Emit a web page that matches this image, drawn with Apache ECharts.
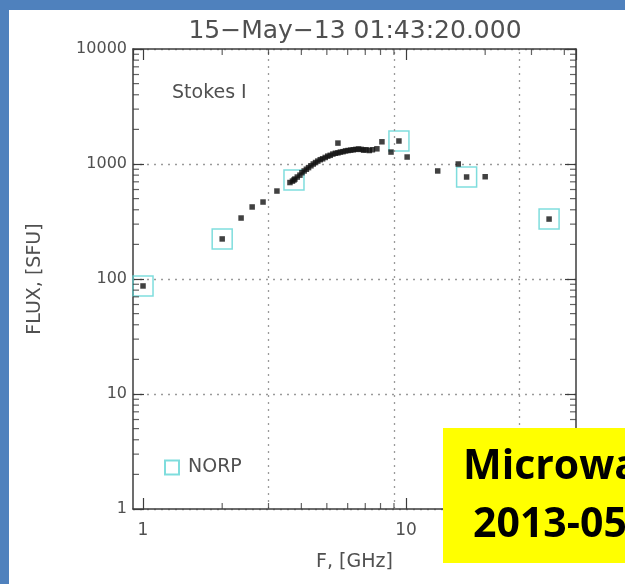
<!DOCTYPE html>
<html><head><meta charset="utf-8">
<script src="https://cdn.jsdelivr.net/npm/echarts@6/dist/echarts.min.js"></script>
<style>html,body{margin:0;padding:0;background:#fff}#c{width:625px;height:584px}</style>
</head><body><div id="c"></div>
<script>
// ---- data ----
const titleText = '15\u2212May\u221213 01:43:20.000';
const stokesLabel = 'Stokes I';
const xAxisName = 'F, [GHz]';
const yAxisName = 'FLUX, [SFU]';
const xRange = [0.916, 44.3];
const yRange = [1, 10000];
const norpFreq = [1, 2, 3.75, 9.4, 17, 35];
const norpFlux = [87, 223, 726, 1585, 771, 332];
const specFreq = [2.36, 2.60, 2.86, 3.23, 3.62, 3.70, 3.78, 3.86, 3.95, 4.02, 4.10, 4.18, 4.26, 4.35, 4.44, 4.53, 4.62, 4.72, 4.82, 4.93, 5.04, 5.15, 5.27, 5.39, 5.51, 5.63, 5.76, 5.89, 6.02, 6.16, 6.30, 6.45, 6.60, 6.75, 6.90, 7.05, 7.25, 7.45, 7.75, 5.51, 8.10, 8.77, 10.1, 13.2, 15.8, 20.0];
const specFlux = [339, 423, 467, 582, 690, 710, 740, 770, 800, 840, 870, 900, 930, 965, 1000, 1030, 1060, 1090, 1110, 1140, 1170, 1190, 1220, 1240, 1250, 1270, 1280, 1300, 1310, 1320, 1330, 1340, 1350, 1340, 1320, 1330, 1310, 1330, 1355, 1520, 1560, 1270, 1150, 870, 1000, 775];
const gridFreqs = [3, 9, 27];
const xMinorTicks = [2, 3, 4, 5, 6, 7, 8, 9, 20, 30, 40];
const yMinorTicks = [2, 3, 4, 5, 6, 7, 8, 9, 20, 30, 40, 50, 60, 70, 80, 90, 200, 300, 400, 500, 600, 700, 800, 900, 2000, 3000, 4000, 5000, 6000, 7000, 8000, 9000];
const boxLine1 = 'Microwave spectrum';
const boxLine2 = '2013-05-15';

// ---- chart ----
const axisColor = '#3c3c3c';
const textColor = '#505050';
const font = 'DejaVu Sans';
const chart = echarts.init(document.getElementById('c'), null, {renderer: 'canvas'});

const tickSeries = (data, size, offset) => ({
  type: 'scatter', silent: true, clip: false, symbol: 'rect',
  symbolSize: size, symbolOffset: offset,
  itemStyle: {color: axisColor}, data: data, z: 5
});
const plainNumber = v => String(Math.round(v));

const xAxisBase = {
  type: 'log', min: xRange[0], max: xRange[1],
  axisLine: {lineStyle: {color: axisColor, width: 1.5}},
  axisTick: {inside: true, length: 11, lineStyle: {color: axisColor, width: 1.2}},
  splitLine: {show: false}, minorTick: {show: false}
};
const yAxisBase = {
  type: 'log', min: yRange[0], max: yRange[1],
  axisLine: {lineStyle: {color: axisColor, width: 1.5}},
  axisTick: {inside: true, length: 11, lineStyle: {color: axisColor, width: 1.2}},
  minorTick: {show: false}
};

chart.setOption({
  backgroundColor: '#ffffff',
  animation: false,
  grid: {left: 133, right: 49, top: 49, bottom: 75},
  xAxis: [
    Object.assign({}, xAxisBase, {
      position: 'bottom',
      name: xAxisName, nameLocation: 'middle', nameGap: 44,
      nameTextStyle: {fontFamily: font, fontSize: 19, color: textColor},
      axisLabel: {showMinLabel: false, showMaxLabel: false, margin: 13, fontFamily: font, fontSize: 17, color: textColor, formatter: plainNumber}
    }),
    Object.assign({}, xAxisBase, {position: 'top', axisLabel: {show: false}})
  ],
  yAxis: [
    Object.assign({}, yAxisBase, {
      position: 'left',
      name: yAxisName, nameLocation: 'middle', nameGap: 88, nameRotate: 90,
      nameTextStyle: {fontFamily: font, fontSize: 19, color: textColor},
      axisLabel: {margin: 6, fontFamily: font, fontSize: 16, color: textColor, formatter: plainNumber},
      splitLine: {show: true, lineStyle: {type: [2, 5], color: '#9a9a9a', width: 1.3}}
    }),
    Object.assign({}, yAxisBase, {position: 'right', axisLabel: {show: false}, splitLine: {show: false}})
  ],
  legend: {
    show: true, data: [{name: 'NORP', icon: 'rect'}],
    left: 164, top: 458, padding: 0, itemWidth: 14, itemHeight: 14, itemGap: 8,
    selectedMode: false,
    textStyle: {fontFamily: font, fontSize: 19, color: textColor, padding: [0, 0, 0, 4]}
  },
  series: [
    {
      name: 'grid', type: 'scatter', data: [], silent: true,
      markLine: {
        silent: true, symbol: ['none', 'none'], label: {show: false},
        lineStyle: {type: [2, 5], color: '#9a9a9a', width: 1.3},
        data: gridFreqs.map(v => ({xAxis: v}))
      }
    },
    tickSeries(yMinorTicks.map(v => [xRange[0], v]), [6, 1.2], [3, 0]),
    tickSeries(yMinorTicks.map(v => [xRange[1], v]), [6, 1.2], [-3, 0]),
    tickSeries(xMinorTicks.map(v => [v, yRange[0]]), [1.2, 6], [0, -3]),
    tickSeries(xMinorTicks.map(v => [v, yRange[1]]), [1.2, 6], [0, 3]),
    {
      name: 'NORP', type: 'scatter', symbol: 'rect', symbolSize: 20, clip: false,
      itemStyle: {color: 'rgba(0,0,0,0)', borderColor: '#5fd4d4', borderWidth: 1.5},
      data: norpFreq.map((f, i) => [f, norpFlux[i]]), z: 3
    },
    {
      name: 'NORP points', type: 'scatter', symbol: 'rect', symbolSize: 5.5, clip: false,
      itemStyle: {color: '#111'},
      data: norpFreq.map((f, i) => [f, norpFlux[i]]), z: 4
    },
    {
      name: 'spectrum', type: 'scatter', symbol: 'rect', symbolSize: 5.5,
      itemStyle: {color: '#111'},
      data: specFreq.map((f, i) => [f, specFlux[i]]), z: 4
    }
  ],
  graphic: [
    {type: 'rect', shape: {x: 0, y: 0, width: 625, height: 10}, style: {fill: '#4f81bd'}, z: 10},
    {type: 'rect', shape: {x: 0, y: 0, width: 9, height: 584}, style: {fill: '#4f81bd'}, z: 10},
    {type: 'text', x: 355, y: 31, style: {text: titleText, fontFamily: font, fontSize: 25, fill: textColor, align: 'center', verticalAlign: 'middle'}, z: 10},
    {type: 'text', x: 172, y: 93, style: {text: stokesLabel, fontFamily: font, fontSize: 19, fill: textColor, align: 'left', verticalAlign: 'middle'}, z: 10},
    {type: 'rect', shape: {x: 443, y: 428, width: 220, height: 135}, style: {fill: '#ffff00'}, z: 20},
    {type: 'text', x: 463, y: 467, style: {text: boxLine1, fontFamily: 'Open Sans', fontWeight: 'bold', fontSize: 41, fill: '#000', align: 'left', verticalAlign: 'middle'}, z: 21},
    {type: 'text', x: 473, y: 525, style: {text: boxLine2, fontFamily: 'Open Sans', fontWeight: 'bold', fontSize: 41, fill: '#000', align: 'left', verticalAlign: 'middle'}, z: 21}
  ]
});
</script></body></html>
